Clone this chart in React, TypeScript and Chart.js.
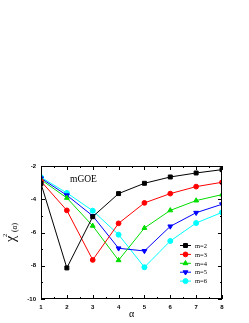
import React, { useEffect, useRef } from "react";
import { Chart, registerables } from "chart.js";
import { drawPoint } from "chart.js/helpers";

Chart.register(...registerables);

const alphaValues = [1, 2, 3, 4, 5, 6, 7, 8];
const seriesLabels = ["m=2", "m=3", "m=4", "m=5", "m=6"];
const m2 = [-3.06, -8.13, -5.05, -3.66, -3.04, -2.66, -2.42, -2.22];
const m3 = [-2.92, -4.67, -7.65, -5.45, -4.22, -3.66, -3.24, -2.98];
const m4 = [-2.82, -3.92, -5.6, -7.67, -5.73, -4.67, -4.08, -3.72];
const m5 = [-2.74, -3.76, -5.0, -6.95, -7.11, -5.63, -4.81, -4.3];
const m6 = [-2.68, -3.62, -4.69, -6.13, -8.09, -6.51, -5.43, -4.79];
const seriesValues = [m2, m3, m4, m5, m6];
const xTicksMajor = [1, 2, 3, 4, 5, 6, 7, 8];
const yTicksMajor = [-10, -8, -6, -4, -2];
const annotationText = "mGOE";

const colors = ["#000000", "#ff0000", "#00dd00", "#0000ff", "#00ffff"];
const styles = ["rect", "circle", "triangle", "triangle", "circle"];
const rotations = [0, 0, 0, 180, 0];
const radii = [2.8, 2.4, 2.8, 2.8, 2.5];

const decorPlugin = {
  id: "decor",
  afterDraw(chart: any) {
    const { ctx, chartArea, scales } = chart;
    const xs = scales.x;
    const ys = scales.y;
    const { left, right, top, bottom } = chartArea;
    ctx.save();
    ctx.strokeStyle = "#000";
    ctx.lineWidth = 1;
    ctx.strokeRect(left + 0.5, top + 0.5, right - left - 1, bottom - top - 1);
    ctx.beginPath();
    for (let v = 1; v <= 8.001; v += 0.5) {
      const px = Math.round(xs.getPixelForValue(v)) + 0.5;
      const len = Number.isInteger(v) ? 4 : 2;
      ctx.moveTo(px, bottom);
      ctx.lineTo(px, bottom - len);
      ctx.moveTo(px, top);
      ctx.lineTo(px, top + len);
    }
    for (let v = -10; v <= -2; v += 1) {
      const py = Math.round(ys.getPixelForValue(v)) + 0.5;
      const len = v % 2 === 0 ? 4 : 2;
      ctx.moveTo(left, py);
      ctx.lineTo(left + len, py);
      ctx.moveTo(right, py);
      ctx.lineTo(right - len, py);
    }
    ctx.stroke();

    // annotation
    ctx.fillStyle = "#000";
    ctx.font = "9.5px 'Liberation Serif'";
    ctx.textBaseline = "alphabetic";
    ctx.textAlign = "left";
    ctx.fillText(annotationText, 70, 182);

    // legend
    const lx0 = 180;
    const lx1 = 191;
    let ly = 245;
    chart.data.datasets.forEach((ds: any) => {
      ctx.strokeStyle = ds.borderColor;
      ctx.lineWidth = 1;
      ctx.beginPath();
      ctx.moveTo(lx0, ly + 0.5);
      ctx.lineTo(lx1, ly + 0.5);
      ctx.stroke();
      ctx.fillStyle = ds.pointBackgroundColor;
      ctx.strokeStyle = ds.borderColor;
      drawPoint(ctx, { pointStyle: ds.pointStyle, rotation: ds.pointRotation, radius: ds.pointRadius, borderWidth: 1 }, (lx0 + lx1) / 2, ly + 0.5);
      ctx.fillStyle = "#000";
      ctx.font = "6.5px 'Liberation Serif'";
      ctx.textBaseline = "middle";
      ctx.textAlign = "left";
      ctx.fillText(ds.label, 195, ly + 1);
      ly += 8.9;
    });

    // x title
    ctx.fillStyle = "#000";
    ctx.font = "10px 'Liberation Serif'";
    ctx.textAlign = "center";
    ctx.textBaseline = "alphabetic";
    ctx.fillText("\u03b1", (left + right) / 2, 317);

    // y title (rotated): page x = 20 + v, page y = 237 - u
    ctx.translate(20, 237);
    ctx.rotate(-Math.PI / 2);
    ctx.textAlign = "left";
    ctx.textBaseline = "alphabetic";
    ctx.font = "14px 'Liberation Serif'";
    ctx.fillText("\u03c7", -5, -5);
    ctx.font = "6.5px 'Liberation Serif'";
    ctx.fillText("2", 0, -13);
    ctx.font = "7.5px 'Liberation Serif'";
    ctx.fillText("(\u03b1)", 5, -3);
    ctx.restore();
  },
};

export default function App() {
  const ref = useRef<HTMLCanvasElement>(null);
  useEffect(() => {
    if (!ref.current) return;
    const chart = new Chart(ref.current, {
      type: "line",
      data: {
        datasets: seriesValues.map((vals, i) => ({
          label: seriesLabels[i],
          data: vals.map((v, j) => ({ x: alphaValues[j], y: v })),
          borderColor: colors[i],
          backgroundColor: colors[i],
          pointBackgroundColor: colors[i],
          pointBorderColor: colors[i],
          pointStyle: styles[i] as any,
          pointRotation: rotations[i],
          pointRadius: radii[i],
          borderWidth: 1,
          tension: 0,
        })),
      },
      options: {
        animation: false,
        responsive: false,
        devicePixelRatio: 1,
        layout: { padding: { top: 166, right: 27, left: 0, bottom: 0 } },
        plugins: { legend: { display: false }, tooltip: { enabled: false } },
        scales: {
          x: {
            type: "linear",
            min: 1,
            max: 8,
            afterFit: (s: any) => { s.height = 24; },
            afterBuildTicks: (s: any) => { s.ticks = xTicksMajor.map((v) => ({ value: v })); },
            grid: { display: false, drawTicks: false },
            border: { display: false },
            ticks: { padding: 5, color: "#000", font: { size: 6, weight: "bold", family: "'Liberation Sans'" } },
          },
          y: {
            type: "linear",
            min: -10,
            max: -2,
            afterFit: (s: any) => { s.width = 41; },
            afterBuildTicks: (s: any) => { s.ticks = yTicksMajor.map((v) => ({ value: v })); },
            grid: { display: false, drawTicks: false },
            border: { display: false },
            ticks: { padding: 5, color: "#000", font: { size: 6, weight: "bold", family: "'Liberation Sans'" } },
          },
        },
      },
      plugins: [decorPlugin],
    });
    return () => chart.destroy();
  }, []);
  return (
    <div style={{ position: "fixed", left: 0, top: 0, width: 249, height: 323, background: "#fff" }}>
      <canvas ref={ref} width={249} height={323} />
    </div>
  );
}
